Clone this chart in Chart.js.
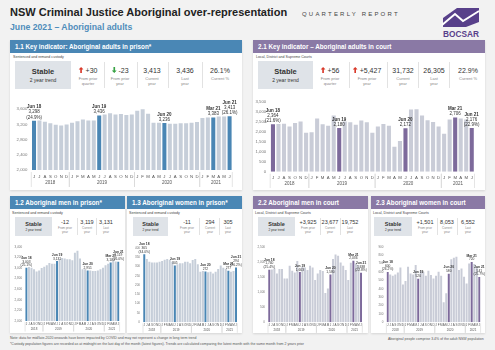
<!DOCTYPE html>
<html lang="en">
<head>
<meta charset="UTF-8">
<title>NSW Criminal Justice Aboriginal over-representation</title>
<script src="https://cdn.jsdelivr.net/npm/chart.js"></script>
<style>
    body { margin: 0; width: 495px; height: 350px; background: #f2f2f2; font-family: "Liberation Sans", Arial, sans-serif; color: #333; position: relative; overflow: hidden; }
    .abs { position: absolute; white-space: nowrap; }
    .panel { position: absolute; background: #fff; box-shadow: 0 1px 2px rgba(0,0,0,0.12); }
    .head { position: absolute; color: #fff; font-weight: bold; font-size: 6.3px; line-height: 13px; padding-left: 5px; box-sizing: border-box; }
    .blue { background: #4a87b5; }
    .purple { background: #8a79a5; }
    .sub { position: absolute; font-size: 3.6px; color: #444; white-space: nowrap; }
    .box { position: absolute; background: #dfe3e8; text-align: center; }
    .val { position: absolute; transform: translateX(-50%); text-align: center; white-space: nowrap; color: #333; }
    .cap { color: #888; }
    .div { position: absolute; width: 0.6px; background: #e2e2e2; }
    canvas { position: absolute; }
    .note { position: absolute; font-size: 3.5px; color: #555; white-space: nowrap; }
</style>
</head>
<body>
<div class="abs" style="left:10px; top:6px; font-size:11px; font-weight:bold; color:#222;">NSW Criminal Justice Aboriginal over-representation</div>
<div class="abs" style="left:302px; top:11px; font-size:6px; letter-spacing:2.2px; color:#444;">QUARTERLY REPORT</div>
<div class="abs" style="left:10px; top:22px; font-size:8.7px; font-weight:bold; color:#4f8dbb;">June 2021 – Aboriginal adults</div>

<svg class="abs" style="left:440px; top:5px;" width="42" height="34" viewBox="0 0 42 34">
    <polygon points="3,22 3,13 17,3 39,3 39,17 26,22" fill="#58408a"/>
    <polyline points="2,20 15,9 23,16 39,6" fill="none" stroke="#fff" stroke-width="2"/>
    <text x="21" y="32" text-anchor="middle" font-size="8.3" font-weight="bold" fill="#58408a" font-family="Liberation Sans, Arial, sans-serif">BOCSAR</text>
</svg>

<!-- top row panels -->
<div class="panel" style="left:10px; top:40px; width:232px; height:150px;"></div>
<div class="head blue" style="left:10px; top:40px; width:232px; height:13px;">1.1 Key indicator: Aboriginal adults in prison*</div>
<div class="sub" style="left:13px; top:55px;">Sentenced and remand custody</div>

<div class="panel" style="left:253px; top:40px; width:232px; height:150px;"></div>
<div class="head purple" style="left:253px; top:40px; width:232px; height:13px;">2.1 Key indicator – Aboriginal adults in court</div>
<div class="sub" style="left:256px; top:55px;">Local, District and Supreme Courts</div>

<!-- bottom row panels -->
<div class="panel" style="left:10px; top:196px; width:115px; height:137px;"></div>
<div class="head blue" style="left:10px; top:196px; width:115px; height:13px;">1.2 Aboriginal men in prison*</div>
<div class="sub" style="left:12px; top:211px;">Sentenced and remand custody</div>

<div class="panel" style="left:127px; top:196px; width:115px; height:137px;"></div>
<div class="head blue" style="left:127px; top:196px; width:115px; height:13px;">1.3 Aboriginal women in prison*</div>
<div class="sub" style="left:129px; top:211px;">Sentenced and remand custody</div>

<div class="panel" style="left:253px; top:196px; width:115px; height:137px;"></div>
<div class="head purple" style="left:253px; top:196px; width:115px; height:13px;">2.2 Aboriginal men in court</div>
<div class="sub" style="left:255px; top:211px;">Local, District and Supreme Courts</div>

<div class="panel" style="left:371px; top:196px; width:114px; height:137px;"></div>
<div class="head purple" style="left:371px; top:196px; width:114px; height:13px;">2.3 Aboriginal women in court</div>
<div class="sub" style="left:373px; top:211px;">Local, District and Supreme Courts</div>

<canvas id="c11" width="232" height="93" style="left:10px; top:95px;"></canvas>
<canvas id="c21" width="232" height="93" style="left:253px; top:95px;"></canvas>
<canvas id="c12" width="115" height="91" style="left:10px; top:242px;"></canvas>
<canvas id="c13" width="115" height="91" style="left:127px; top:242px;"></canvas>
<canvas id="c22" width="115" height="91" style="left:253px; top:242px;"></canvas>
<canvas id="c23" width="114" height="91" style="left:371px; top:242px;"></canvas>

<div class="note" style="left:10px; top:336px;">Note: data for mid/late-2020 onwards have been impacted by COVID and may not represent a change in long term trend</div>
<div class="note" style="left:10px; top:342px;">*Custody population figures are recorded as at midnight on the last day of the month (latest figures). Trends are calculated comparing the latest month with the same month from 2 years prior</div>
<div class="note" style="left:388px; top:337px;">Aboriginal people comprise 3.4% of the adult NSW population</div>

<script>
    // Months Jun 2018 - Jun 2021
    const months = ['J','J','A','S','O','N','D','J','F','M','A','M','J','J','A','S','O','N','D','J','F','M','A','M','J','J','A','S','O','N','D','J','F','M','A','M','J'];
    const years = [['2018', 0, 6], ['2019', 7, 18], ['2020', 19, 30], ['2021', 31, 36]];
    const markIdx = [0, 12, 24, 33, 36];
    const markNames = ['Jun 18', 'Jun 19', 'Jun 20', 'Mar 21', 'Jun 21'];

    // 1.1 Aboriginal adults in prison
    const adultsPrison = [3298, 3300, 3270, 3230, 3190, 3170, 3200, 3240, 3280, 3330, 3300, 3300,
        3436, 3460, 3490, 3460, 3470, 3450, 3460, 3560, 3600, 3480, 3240, 3240,
        3236, 3220, 3220, 3230, 3230, 3240, 3260, 3370, 3380, 3383, 3410, 3410, 3413];
    const adultsPrisonPct = ['(24.9%)', '', '', '', '(26.1%)'];

    // 2.1 Aboriginal adults in court
    const adultsCourt = [2364, 2380, 2390, 2250, 2430, 2500, 1940, 1970, 2650, 2370, 2290, 2800,
        2180, 2500, 2470, 2340, 2560, 2470, 1940, 2250, 2380, 2290, 1250, 1530,
        2172, 3100, 3120, 2800, 2570, 2480, 2250, 1900, 2600, 2706, 2650, 2600, 2176];
    const adultsCourtPct = ['(21.6%)', '', '', '', '(22.9%)'];

    // 1.2 Aboriginal men in prison
    const menPrison = [3003, 3020, 3005, 2975, 2935, 2955, 3000, 3025, 3050, 3095, 3080, 3080,
        3131, 3165, 3190, 3180, 3165, 3165, 3145, 3290, 3325, 3180, 2975, 2975,
        2951, 2955, 2945, 2945, 2955, 2975, 3005, 3050, 3080, 3103, 3130, 3125, 3119];
    const menPrisonPct = ['(25.1%)', '', '', '', '(26.0%)'];

    // 1.3 Aboriginal women in prison
    const womenPrison = [365, 339, 325, 321, 321, 321, 325, 329, 336, 339, 334, 325,
        305, 311, 316, 316, 325, 325, 316, 334, 339, 311, 271, 275,
        272, 268, 271, 262, 271, 286, 304, 293, 286, 277, 271, 275, 294];
    const womenPrisonPct = ['(34.0%)', '', '', '', '(26.2%)'];

    // 2.2 Aboriginal men in court
    const menCourt = [1740, 1751, 1784, 1619, 1762, 1762, 1453, 1453, 1872, 1707, 1652, 2026,
        1663, 1839, 1817, 1729, 1872, 1817, 1398, 1619, 1729, 1696, 969, 1123,
        1580, 2092, 2246, 2202, 1982, 1872, 1729, 1398, 1971, 2036, 1949, 1894, 1638];
    const menCourtPct = ['(25.4%)', '', '', '', '(22.8%)'];

    // 2.3 Aboriginal women in court
    const womenCourt = [600, 571, 555, 571, 595, 654, 452, 492, 662, 583, 571, 682,
        520, 615, 603, 555, 615, 563, 523, 555, 603, 555, 238, 345,
        580, 753, 769, 781, 622, 642, 543, 464, 702, 720, 694, 662, 541];
    const womenCourtPct = ['(26.2%)', '', '', '', '(25.7%)'];

    // Headline figures under each panel title
    const stats11 = [['+30', 'From prior|quarter', 'up'], ['-23', 'From prior|year', 'down'], ['3,413', 'Current|year'], ['3,436', 'Last|year'], ['26.1%', 'Current %']];
    const stats21 = [['+56', 'From prior|quarter', 'up'], ['+5,427', 'From prior|year', 'up'], ['31,732', 'Current|year'], ['26,305', 'Last|year'], ['22.9%', 'Current %']];
    const stats12 = [['-12', 'From prior|year'], ['3,119', 'Current|year'], ['3,131', 'Last|year']];
    const stats13 = [['-11', 'From prior|year'], ['294', 'Current|year'], ['305', 'Last|year']];
    const stats22 = [['+3,925', 'From prior|year'], ['23,677', 'Current|year'], ['19,752', 'Last|year']];
    const stats23 = [['+1,501', 'From prior|year'], ['8,053', 'Current|year'], ['6,552', 'Last|year']];

    const FONT = '"Liberation Sans", Arial, sans-serif';
    Chart.defaults.font.family = FONT;

    function arrow(dir) {
        const c = dir === 'up' ? '#d93a2b' : '#3aa346';
        const pts = dir === 'up' ? '3,0 6,3 4,3 4,7 2,7 2,3 0,3' : '3,7 6,4 4,4 4,0 2,0 2,4 0,4';
        return '<svg width="5" height="6" viewBox="0 0 6 7" style="vertical-align:0; margin-right:2px"><polygon points="' + pts + '" fill="' + c + '"/></svg>';
    }

    function statRow(s) {
        const box = document.createElement('div');
        box.className = 'box';
        box.style.cssText = `left:${s.box[0]}px; top:${s.box[1]}px; width:${s.box[2]}px; height:${s.box[3]}px;`;
        box.innerHTML = `<div style="font-weight:bold; font-size:${s.big}px; margin-top:${s.box[3] * 0.22}px">Stable</div>` +
            `<div style="font-size:${s.small}px; margin-top:1px">2 year trend</div>`;
        document.body.appendChild(box);
        s.items.forEach((it, i) => {
            const v = document.createElement('div');
            v.className = 'val';
            v.style.cssText = `left:${s.cx[i]}px; top:${s.vy}px; font-size:${s.valSize}px;`;
            v.innerHTML = (it[2] ? arrow(it[2]) : '') + it[0] +
                `<div class="cap" style="font-size:${s.capSize}px; line-height:${s.capSize * 1.35}px; margin-top:${s.capGap}px">${it[1].replace('|', '<br>')}</div>`;
            document.body.appendChild(v);
        });
        s.dx.forEach(x => {
            const d = document.createElement('div');
            d.className = 'div';
            d.style.cssText = `left:${x}px; top:${s.box[1] + 1}px; height:${s.box[3] - 2}px;`;
            document.body.appendChild(d);
        });
    }

    statRow({ items: stats11, box: [15, 61, 56, 28], cx: [88, 120, 152, 185, 220], dx: [104, 137, 168, 202], vy: 67, valSize: 7, capSize: 4, capGap: 2, big: 7.5, small: 5 });
    statRow({ items: stats21, box: [258, 61, 55, 28], cx: [330, 367, 403, 434, 468], dx: [349, 387, 418, 449], vy: 67, valSize: 7, capSize: 4, capGap: 2, big: 7.5, small: 5 });
    statRow({ items: stats12, box: [15, 217, 37, 19], cx: [65, 87, 106], dx: [77, 96], vy: 219, valSize: 5.5, capSize: 3, capGap: 1, big: 5.5, small: 3 });
    statRow({ items: stats13, box: [133, 217, 35, 19], cx: [187, 210, 228], dx: [199, 219], vy: 219, valSize: 5.5, capSize: 3, capGap: 1, big: 5.5, small: 3 });
    statRow({ items: stats22, box: [258, 217, 37, 19], cx: [308, 330, 350], dx: [320, 340], vy: 219, valSize: 5.5, capSize: 3, capGap: 1, big: 5.5, small: 3 });
    statRow({ items: stats23, box: [374, 217, 38, 19], cx: [425, 447, 468], dx: [437, 457], vy: 219, valSize: 5.5, capSize: 3, capGap: 1, big: 5.5, small: 3 });

    // value labels above the highlighted months
    const barNotes = {
        id: 'barNotes',
        afterDatasetsDraw(chart, args, o) {
            const ctx = chart.ctx;
            const bars = chart.getDatasetMeta(0).data;
            const vals = chart.data.datasets[0].data;
            ctx.save();
            ctx.textAlign = 'center';
            ctx.fillStyle = '#333';
            markIdx.forEach((idx, k) => {
                const bar = bars[idx];
                const lines = [markNames[k], vals[idx].toLocaleString('en-US')];
                if (o.pct[k]) lines.push(o.pct[k]);
                let y = bar.y - o.gap;
                for (let j = lines.length - 1; j >= 0; j--) {
                    ctx.font = (j === 0 ? 'bold ' : '') + o.size + 'px ' + FONT;
                    ctx.fillText(lines[j], bar.x, y);
                    y -= o.size * 1.15;
                }
            });
            ctx.restore();
        }
    };

    // year row under the month letters, with group dividers
    const yearAxis = {
        id: 'yearAxis',
        afterDraw(chart, args, o) {
            const ctx = chart.ctx, xs = chart.scales.x;
            const step = xs.getPixelForValue(1) - xs.getPixelForValue(0);
            const base = chart.chartArea.bottom;
            ctx.save();
            ctx.strokeStyle = '#d4d4d4';
            ctx.lineWidth = 0.6;
            ctx.fillStyle = '#555';
            ctx.textAlign = 'center';
            ctx.font = o.size + 'px ' + FONT;
            years.forEach(([label, a, b]) => {
                const l = xs.getPixelForValue(a) - step / 2;
                const r = xs.getPixelForValue(b) + step / 2;
                [l, r].forEach(x => {
                    ctx.beginPath();
                    ctx.moveTo(x, base + o.lineTop);
                    ctx.lineTo(x, base + o.lineBottom);
                    ctx.stroke();
                });
                ctx.fillText(label, (l + r) / 2, base + o.textY);
            });
            ctx.restore();
        }
    };

    function barChart(id, values, pct, g) {
        const colors = values.map((v, i) => markIdx.includes(i) ? g.hi : g.lo);
        return new Chart(document.getElementById(id), {
            type: 'bar',
            data: {
                labels: months,
                datasets: [{ data: values, backgroundColor: colors, barPercentage: 1, categoryPercentage: g.cat }]
            },
            options: {
                responsive: false,
                animation: false,
                devicePixelRatio: 1,
                layout: { padding: { top: g.padTop, right: g.padRight, left: 0, bottom: 0 } },
                plugins: {
                    legend: { display: false },
                    tooltip: { enabled: false },
                    barNotes: { pct: pct, size: g.noteSize, gap: g.noteGap },
                    yearAxis: { size: g.yearSize, textY: g.yearY, lineTop: g.lineTop, lineBottom: g.lineBottom }
                },
                scales: {
                    x: {
                        grid: { display: false, drawTicks: false },
                        border: { display: false },
                        ticks: { font: { size: g.tickSize }, color: '#555', padding: g.xPad, autoSkip: false, maxRotation: 0 },
                        afterFit: s => { s.height = g.xh; }
                    },
                    y: {
                        min: g.min, max: g.max,
                        grid: { display: false, drawTicks: false },
                        border: { display: false },
                        ticks: { stepSize: g.step, font: { size: g.tickSize }, color: '#777', padding: g.yPad,
                            callback: v => v.toLocaleString('en-US') },
                        afterFit: s => { s.width = g.yw; }
                    }
                }
            },
            plugins: [barNotes, yearAxis]
        });
    }

    const BLUE = '#4a86b4', BLUE_LO = '#c6ced9';
    const PURPLE = '#7d6a9b', PURPLE_LO = '#c9ccd7';
    const big = { cat: 0.74, noteSize: 4.5, noteGap: 2, yearSize: 4.5, yearY: 13.5, lineTop: 2, lineBottom: 17, tickSize: 4.3, xPad: 4, yPad: 4 };
    const small = { cat: 0.78, noteSize: 3.3, noteGap: 1.5, yearSize: 3, yearY: 8.5, lineTop: 1, lineBottom: 10.5, tickSize: 3, xPad: 1.5, yPad: 3 };

    barChart('c11', adultsPrison, adultsPrisonPct, Object.assign({}, big, { hi: BLUE, lo: BLUE_LO, min: 2000, max: 3800, step: 200, yw: 21.3, xh: 18, padTop: 5.7, padRight: 9.7 }));
    barChart('c21', adultsCourt, adultsCourtPct, Object.assign({}, big, { hi: PURPLE, lo: PURPLE_LO, min: 0, max: 3500, step: 500, yw: 17.2, xh: 16.3, padTop: 6, padRight: 10.5 }));
    barChart('c12', menPrison, menPrisonPct, Object.assign({}, small, { hi: BLUE, lo: BLUE_LO, min: 2000, max: 3400, step: 200, yw: 15.1, xh: 12, padTop: 4.7, padRight: 5.4 }));
    barChart('c13', womenPrison, womenPrisonPct, Object.assign({}, small, { hi: BLUE, lo: BLUE_LO, min: 0, max: 400, step: 50, yw: 16, xh: 10.7, padTop: 5.7, padRight: 4.7 }));
    barChart('c22', menCourt, menCourtPct, Object.assign({}, small, { hi: PURPLE, lo: PURPLE_LO, min: 0, max: 2500, step: 500, yw: 15, xh: 10.7, padTop: 4.7, padRight: 5.7 }));
    barChart('c23', womenCourt, womenCourtPct, Object.assign({}, small, { hi: PURPLE, lo: PURPLE_LO, min: 0, max: 900, step: 100, yw: 15.4, xh: 10.7, padTop: 4.7, padRight: 4.4 }));
</script>
</body>
</html>
